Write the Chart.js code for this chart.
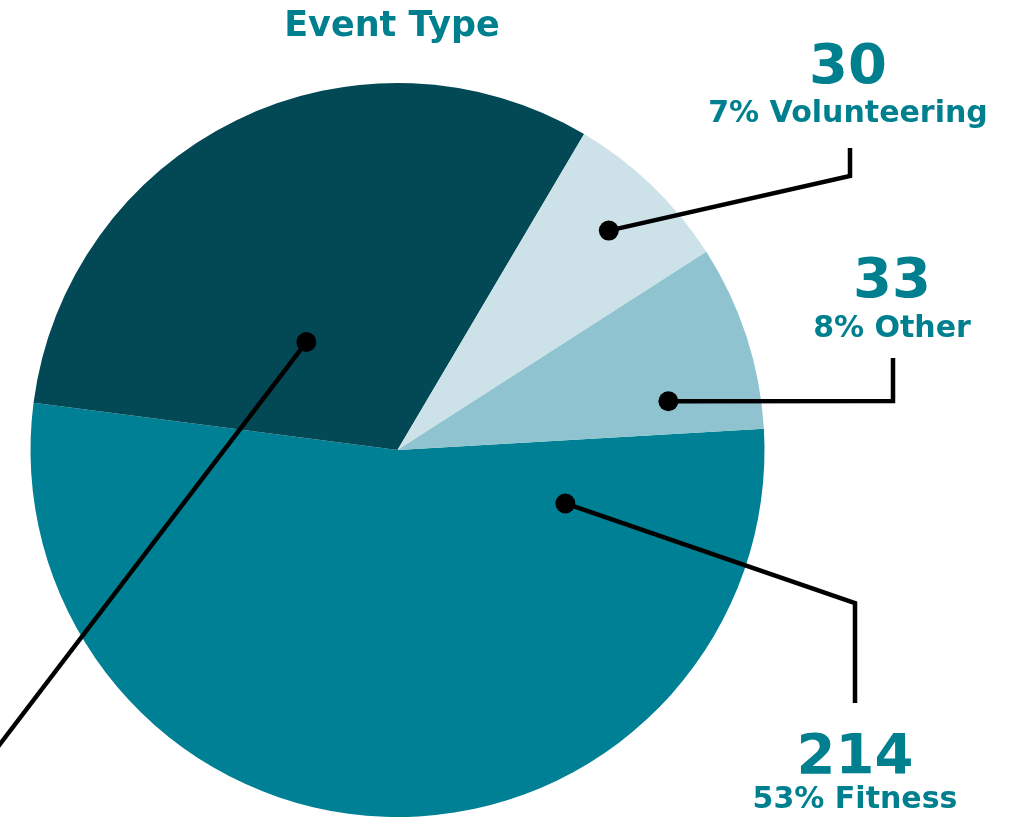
<!DOCTYPE html>
<html lang="en">
<head>
    <meta charset="UTF-8">
    <title>Event Type</title>
    <style>
        body {
            margin: 0;
            padding: 0;
            background: #ffffff;
        }
        canvas {
            display: block;
        }
    </style>
</head>
<body>
    <canvas id="eventChart" width="1014" height="818"></canvas>

    <script src="https://cdn.jsdelivr.net/npm/chart.js"></script>
    <script>
        // Chart data
        const categories = ['Fitness', 'Social', 'Volunteering', 'Other'];
        const eventCounts = [214, 127, 30, 33];
        const sliceColors = ['#008094', '#034955', '#cce2e8', '#8ec3cf'];

        const labelColor = '#00808f';
        const fontFamily = '"DejaVu Sans", Arial, sans-serif';

        // where each callout sits: dot inside slice (fraction of angle / radius), then elbow + label
        const callouts = [
            { at: 0.11, r: 0.48, elbow: [855, 603], end: [855, 703], text: [855, 773, 808] },
            { at: 0.375, r: 0.385, elbow: [-70, 836], end: [-70, 836], text: [-120, 900, 940] },
            { at: 0.5, r: 0.83, elbow: [850, 176], end: [850, 148], text: [848, 83, 122] },
            { at: 0.765, r: 0.75, elbow: [893, 401], end: [893, 358], text: [892, 297, 337] }
        ];

        const total = eventCounts.reduce((a, b) => a + b, 0);

        const calloutPlugin = {
            id: 'callouts',
            afterDraw(chart) {
                const ctx = chart.ctx;
                const meta = chart.getDatasetMeta(0);

                // title
                ctx.save();
                ctx.fillStyle = labelColor;
                ctx.font = 'bold 35px ' + fontFamily;
                ctx.textAlign = 'center';
                ctx.textBaseline = 'alphabetic';
                ctx.fillText('Event Type', 392, 36);

                meta.data.forEach((arc, i) => {
                    const c = callouts[i];
                    const p = arc.getProps(['x', 'y', 'startAngle', 'endAngle', 'outerRadius'], true);
                    const ang = p.startAngle + c.at * (p.endAngle - p.startAngle);
                    const dx = p.x + Math.cos(ang) * p.outerRadius * c.r;
                    const dy = p.y + Math.sin(ang) * p.outerRadius * c.r;

                    ctx.strokeStyle = '#000';
                    ctx.lineWidth = 4.5;
                    ctx.lineJoin = 'miter';
                    ctx.beginPath();
                    ctx.moveTo(dx, dy);
                    ctx.lineTo(c.elbow[0], c.elbow[1]);
                    ctx.lineTo(c.end[0], c.end[1]);
                    ctx.stroke();

                    ctx.fillStyle = '#000';
                    ctx.beginPath();
                    ctx.arc(dx, dy, 10, 0, Math.PI * 2);
                    ctx.fill();

                    const pct = Math.round(eventCounts[i] / total * 100);
                    ctx.fillStyle = labelColor;
                    ctx.font = 'bold 56px ' + fontFamily;
                    ctx.fillText(String(eventCounts[i]), c.text[0], c.text[1]);
                    ctx.font = 'bold 30px ' + fontFamily;
                    ctx.fillText(pct + '% ' + categories[i], c.text[0], c.text[2]);
                });
                ctx.restore();
            }
        };

        const ctx = document.getElementById('eventChart').getContext('2d');
        new Chart(ctx, {
            type: 'pie',
            data: {
                labels: categories,
                datasets: [{
                    data: eventCounts,
                    backgroundColor: sliceColors,
                    borderWidth: 0
                }]
            },
            options: {
                responsive: false,
                animation: false,
                rotation: 86.7,
                layout: {
                    padding: { left: 30, right: 249, top: 83, bottom: 1 }
                },
                plugins: {
                    legend: { display: false },
                    tooltip: { enabled: false }
                }
            },
            plugins: [calloutPlugin]
        });
    </script>
</body>
</html>
